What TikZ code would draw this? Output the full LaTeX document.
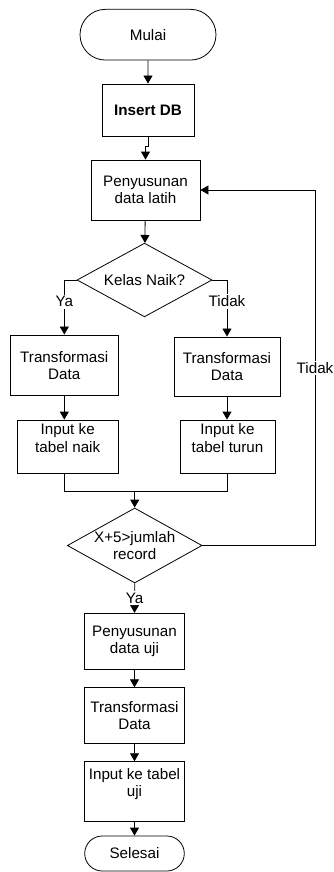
\documentclass[tikz,border=0pt]{standalone}
\usepackage{fontspec}
\setmainfont{Liberation Sans}
\usetikzlibrary{shapes.geometric,shapes.misc,arrows.meta}
\begin{document}
\begin{tikzpicture}[x=1pt,y=-1pt,
  font=\fontsize{15.2}{17.3}\selectfont,
  every node/.style={inner sep=0pt},
  box/.style={draw, line width=0.8pt, align=center, rectangle},
  term/.style={draw, line width=0.8pt, rounded rectangle},
  dec/.style={draw, line width=0.8pt, diamond, align=center},
  flow/.style={line width=0.8pt, -{Triangle[length=8pt,width=9pt]}},
  conn/.style={line width=0.8pt},
  lbl/.style={fill=white, inner sep=1.5pt}
]
\useasboundingbox (0,0) rectangle (333,872);

\node[term, minimum width=136pt, minimum height=50.7pt] (start) at (148,34.7) {Mulai};
\node[box, minimum width=92pt, minimum height=52pt, font=\fontsize{15.2}{17.3}\selectfont\bfseries] (ins) at (148,110) {Insert DB};
\node[box, minimum width=109pt, minimum height=60pt] (pl) at (145.5,190) {Penyusunan\\data latih};
\node[dec, minimum width=135pt, minimum height=73.7pt, aspect=1.83] (kn) at (144.5,280) {Kelas Naik?};
\node[box, minimum width=107.3pt, minimum height=60.7pt] (t1) at (64.3,365.3) {Transformasi\\Data};
\node[box, minimum width=106pt, minimum height=59.7pt] (t2) at (227,366.8) {Transformasi\\Data};
\node[box, minimum width=100.7pt, minimum height=53pt] (n1) at (67.7,446.5) {Input ke\\tabel naik\\\mbox{}};
\node[box, minimum width=95pt, minimum height=53pt] (n2) at (227.5,446.5) {Input ke\\tabel turun\\\mbox{}};
\node[dec, minimum width=134.7pt, minimum height=75pt, aspect=1.8] (d2) at (134.7,545.5) {X+5>jumlah\\record};
\node[box, minimum width=99.6pt, minimum height=56pt] (pu) at (134.5,641.3) {Penyusunan\\data uji};
\node[box, minimum width=99.6pt, minimum height=55.6pt] (tu) at (134.5,715.5) {Transformasi\\Data};
\node[box, minimum width=99.6pt, minimum height=59.3pt] (iu) at (134.5,791.3) {Input ke tabel\\uji\\\mbox{}};
\node[term, minimum width=99.6pt, minimum height=35pt] (sel) at (134.5,853.5) {Selesai};

\coordinate (m) at (134.7,491.7);
\coordinate (r) at (315,545.5);

\draw[flow] (start) -- (ins);
\draw[flow] (ins.south) -- ++(0,10) -| (pl.north);
\draw[flow] (pl) -- (kn);
\draw[flow] (kn.west) -| node[lbl, pos=0.7] {Ya} (t1.north);
\draw[flow] (kn.east) -| node[lbl, pos=0.69] {Tidak} (t2.north);
\draw[flow] (t1.south) -- (t1.south |- n1.north);
\draw[flow] (t2.south) -- (t2.south |- n2.north);
\draw[conn] (t1.south |- n1.south) |- (m);
\draw[conn] (n2.south) |- (m);
\draw[flow] (m) -- (d2.north);
\draw[flow] (d2.east) -- (r) |- node[lbl, pos=0.25] {Tidak} (pl.east);
\draw[flow] (d2.south) -- node[lbl] {Ya} (pu.north);
\draw[flow] (pu) -- (tu);
\draw[flow] (tu) -- (iu);
\draw[flow] (iu) -- (sel);
\end{tikzpicture}
\end{document}
